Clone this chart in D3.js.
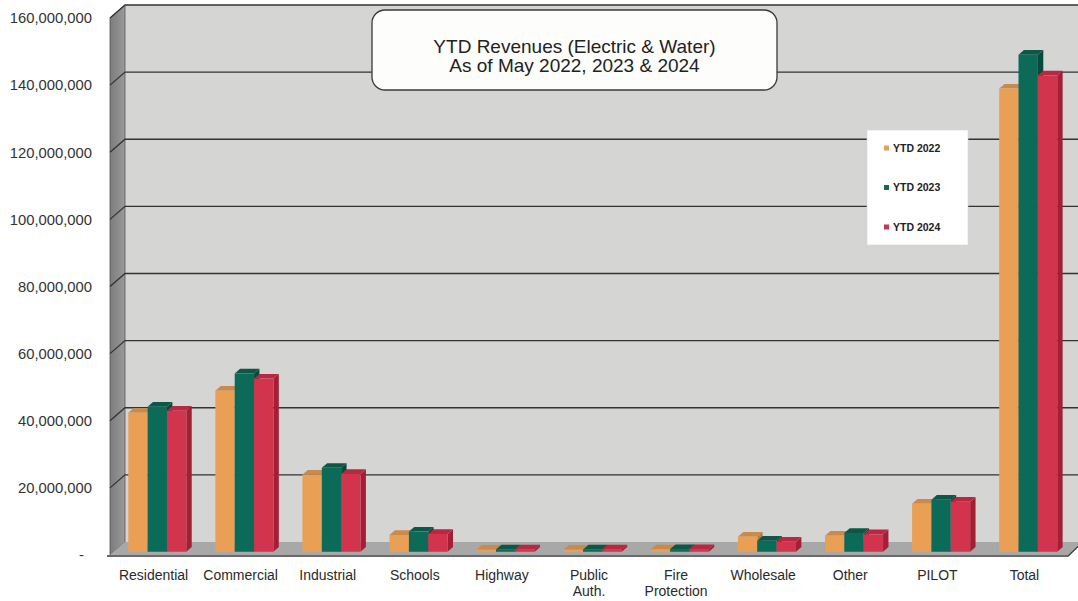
<!DOCTYPE html>
<html>
<head>
<meta charset="utf-8">
<script src="https://cdn.jsdelivr.net/npm/d3@7"></script>
<style>
  html, body { margin: 0; padding: 0; background: #ffffff; }
  svg { display: block; }
  text { font-family: "Liberation Sans", Arial, sans-serif; }
</style>
</head>
<body>
<svg id="chart" width="1078" height="601"></svg>
<script>
// Revenue categories and year-to-date values (dollars)
const categories = ["Residential", "Commercial", "Industrial", "Schools", "Highway",
  "Public Auth.", "Fire Protection", "Wholesale", "Other", "PILOT", "Total"];
const seriesNames = ["YTD 2022", "YTD 2023", "YTD 2024"];
const ytd2022 = [41400000, 48000000, 23000000, 5000000, 600000, 600000, 700000, 4500000, 4800000, 14300000, 138000000];
const ytd2023 = [43200000, 53100000, 25000000, 6000000, 700000, 700000, 800000, 3300000, 5600000, 15500000, 148100000];
const ytd2024 = [42000000, 51600000, 23200000, 5300000, 700000, 700000, 800000, 3000000, 5200000, 14900000, 141900000];
const yTicks = [0, 20000000, 40000000, 60000000, 80000000, 100000000, 120000000, 140000000, 160000000];
const titleLines = ["YTD Revenues (Electric & Water)", "As of May 2022, 2023 & 2024"];

const seriesValues = [ytd2022, ytd2023, ytd2024];
const colors = {
  front: ["#e9a055", "#0b6a58", "#d3344d"],
  top:   ["#c98a4c", "#0e5646", "#b82840"],
  side:  ["#b97a3c", "#07493c", "#a31f36"],
  legend:["#e0a262", "#17684f", "#c8335a"]
};

const svg = d3.select("#chart");

// 3D projection: front plane plus a depth offset toward the back wall
const DX = 15, DY = -13;
const x = d3.scaleBand().domain(categories).range([110, 1068]).paddingInner(0).paddingOuter(0);
const xs = d3.scaleBand().domain(seriesNames).range([0, x.bandwidth()]).paddingInner(0).paddingOuter(0.75);
const y = d3.scaleLinear().domain([0, 160000000]).range([555, 18]);

const x0 = x.range()[0], x1 = x.range()[1];
const yBase = y(0), yTop = y(160000000);

// Walls and floor
const g = svg.append("g");
g.append("polygon")
  .attr("points", [[x0 + DX, yTop + DY], [x1 + DX + 40, yTop + DY], [x1 + DX + 40, yBase + DY], [x0 + DX, yBase + DY]].join(" "))
  .attr("fill", "#d5d5d4");

const wallGrad = svg.append("defs").append("linearGradient").attr("id", "wallGrad")
  .attr("x1", "0").attr("x2", "1").attr("y1", "0").attr("y2", "0");
wallGrad.append("stop").attr("offset", "0").attr("stop-color", "#7c7c7c");
wallGrad.append("stop").attr("offset", "1").attr("stop-color", "#9a9a9a");
g.append("polygon")
  .attr("points", [[x0, yTop], [x0 + DX, yTop + DY], [x0 + DX, yBase + DY], [x0, yBase]].join(" "))
  .attr("fill", "url(#wallGrad)").attr("stroke", "#555").attr("stroke-width", 0.8);

g.append("polygon")
  .attr("points", [[x0, yBase], [x1, yBase], [x1 + DX, yBase + DY], [x0 + DX, yBase + DY]].join(" "))
  .attr("fill", "#a8a8a8");
g.append("path")
  .attr("d", `M${x0 - 3},${yBase + 1}H${x1}L${x1 + DX},${yBase + DY}`)
  .attr("fill", "none").attr("stroke", "#3a3a3a").attr("stroke-width", 1.4);

// Gridlines on the back wall and the left wall
const grid = g.append("g");
yTicks.filter(d => d > 0).forEach(v => {
  const yy = y(v);
  grid.append("path")
    .attr("d", `M${x0},${yy}L${x0 + DX},${yy + DY}H${x1 + DX + 40}`)
    .attr("fill", "none").attr("stroke", "#333").attr("stroke-width", 1.3);
});

// Y-axis labels
const yAxis = d3.axisLeft(y).tickValues(yTicks).tickSize(0).tickPadding(0)
  .tickFormat(d => d === 0 ? "-" : d3.format(",")(d));
const yAxisG = svg.append("g").attr("transform", "translate(92,0)").call(yAxis);
yAxisG.select(".domain").remove();
yAxisG.selectAll("text")
  .attr("font-size", "14.8px").attr("fill", "#333")
  .attr("font-family", "'Liberation Sans', Arial, sans-serif")
  .attr("dx", d => d === 0 ? "-8px" : "0");

// Bars: front face at a quarter of the depth, bar depth about a third of the full depth
const FRONT = 0.25, BD = 0.36;
const bars = svg.append("g");
categories.forEach((cat, ci) => {
  seriesNames.forEach((s, si) => {
    const v = seriesValues[si][ci];
    const bx = x(cat) + xs(s) + DX * FRONT;
    const bw = xs.bandwidth();
    const by0 = y(0) + DY * FRONT;
    const by1 = y(v) + DY * FRONT;
    const ox = DX * BD, oy = DY * BD;
    const grp = bars.append("g");
    // side face
    grp.append("polygon")
      .attr("points", [[bx + bw, by1], [bx + bw + ox, by1 + oy], [bx + bw + ox, by0 + oy], [bx + bw, by0]].join(" "))
      .attr("fill", colors.side[si]);
    // top face
    grp.append("polygon")
      .attr("points", [[bx, by1], [bx + ox, by1 + oy], [bx + bw + ox, by1 + oy], [bx + bw, by1]].join(" "))
      .attr("fill", colors.top[si]);
    // front face
    grp.append("rect")
      .attr("x", bx).attr("y", by1).attr("width", bw).attr("height", Math.max(0, by0 - by1))
      .attr("fill", colors.front[si]);
  });
});

// Category labels (two-word names wrap onto two lines)
const xl = svg.append("g");
categories.forEach(cat => {
  const lines = cat.split(" ");
  const t = xl.append("text")
    .attr("x", x(cat) + x.bandwidth() / 2)
    .attr("y", 580)
    .attr("text-anchor", "middle")
    .attr("font-size", "14px").attr("fill", "#2a2a2a");
  lines.forEach((ln, i) => {
    t.append("tspan").attr("x", x(cat) + x.bandwidth() / 2).attr("dy", i === 0 ? 0 : 16).text(ln);
  });
});

// Title box
const tb = svg.append("g");
tb.append("rect").attr("x", 372).attr("y", 10).attr("width", 405).attr("height", 80).attr("rx", 13)
  .attr("fill", "#fdfdfb").attr("stroke", "#3a3a3a").attr("stroke-width", 1.3);
titleLines.forEach((ln, i) => {
  tb.append("text").attr("x", 574.5).attr("y", 53 + i * 19)
    .attr("text-anchor", "middle").attr("font-size", "19px").attr("fill", "#222").text(ln);
});

// Legend
const lg = svg.append("g");
lg.append("rect").attr("x", 867).attr("y", 130).attr("width", 101).attr("height", 115)
  .attr("fill", "#ffffff").attr("stroke", "#d8d8d8").attr("stroke-width", 0.6);
seriesNames.forEach((s, i) => {
  const cy = 148 + i * 39.5;
  lg.append("rect").attr("x", 884).attr("y", cy - 2.5).attr("width", 5).attr("height", 5).attr("fill", colors.legend[i]);
  lg.append("text").attr("x", 893).attr("y", cy + 3.8)
    .attr("font-size", "10.5px").attr("font-weight", "bold").attr("fill", "#222").text(s);
});
</script>
</body>
</html>
